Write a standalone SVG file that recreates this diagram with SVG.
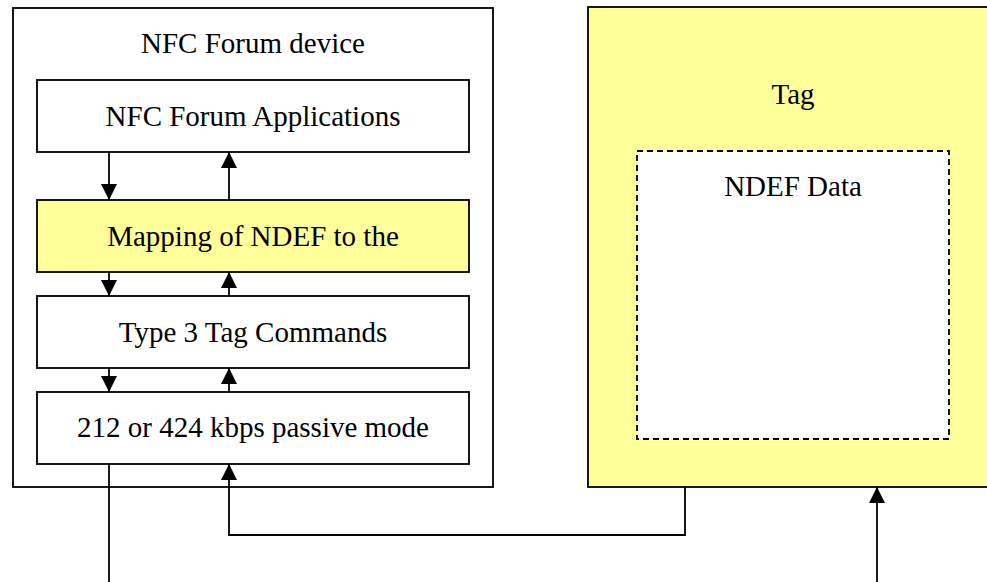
<svg xmlns="http://www.w3.org/2000/svg" width="987" height="582" viewBox="0 0 987 582">
<style>
.box{fill:#fff;stroke:#000;stroke-width:1.8}
.yel{fill:#ffff99;stroke:#000;stroke-width:1.8}
.dash{fill:#fff;stroke:#000;stroke-width:1.8;stroke-dasharray:6,4}
.t{font-family:"Liberation Serif","Times New Roman",serif;font-size:29px;fill:#000;text-anchor:middle}
.c{fill:none;stroke:#000;stroke-width:1.8}
</style>
<defs>
<marker id="ah" markerUnits="userSpaceOnUse" markerWidth="18" markerHeight="18" viewBox="0 0 18 18" refX="16" refY="9" orient="auto">
<path d="M0,1 L16,9 L0,17 Z" fill="#000"/>
</marker>
</defs>
<rect width="987" height="582" fill="#fff"/>
<g id="device">
<rect class="box" x="13" y="8" width="480" height="479"/>
<text class="t" x="253" y="53">NFC Forum device</text>
</g>
<g id="apps">
<rect class="box" x="37" y="80" width="432" height="72"/>
<text class="t" x="253" y="126">NFC Forum Applications</text>
</g>
<g id="mapping">
<rect class="yel" x="37" y="200" width="432" height="72"/>
<text class="t" x="253" y="246">Mapping of NDEF to the</text>
</g>
<g id="type3">
<rect class="box" x="37" y="296" width="432" height="72"/>
<text class="t" x="253" y="342">Type 3 Tag Commands</text>
</g>
<g id="rf">
<rect class="box" x="37" y="392" width="432" height="72"/>
<text class="t" x="253" y="437">212 or 424 kbps passive mode</text>
</g>
<g id="tag">
<rect class="yel" x="588" y="7" width="405" height="480"/>
<text class="t" x="793" y="104">Tag</text>
</g>
<g id="ndef">
<rect class="dash" x="637" y="151" width="312" height="288"/>
<text class="t" x="793" y="196">NDEF Data</text>
</g>
<g id="connectors">
<path class="c" d="M109,152 V200" marker-end="url(#ah)"/>
<path class="c" d="M229,200 V152" marker-end="url(#ah)"/>
<path class="c" d="M109,272 V296" marker-end="url(#ah)"/>
<path class="c" d="M229,296 V272" marker-end="url(#ah)"/>
<path class="c" d="M109,368 V392" marker-end="url(#ah)"/>
<path class="c" d="M229,392 V368" marker-end="url(#ah)"/>
<path class="c" d="M109,464 V582"/>
<path class="c" d="M685,487 V535 H229 V464" marker-end="url(#ah)"/>
<path class="c" d="M877,582 V487" marker-end="url(#ah)"/>
</g>
</svg>
